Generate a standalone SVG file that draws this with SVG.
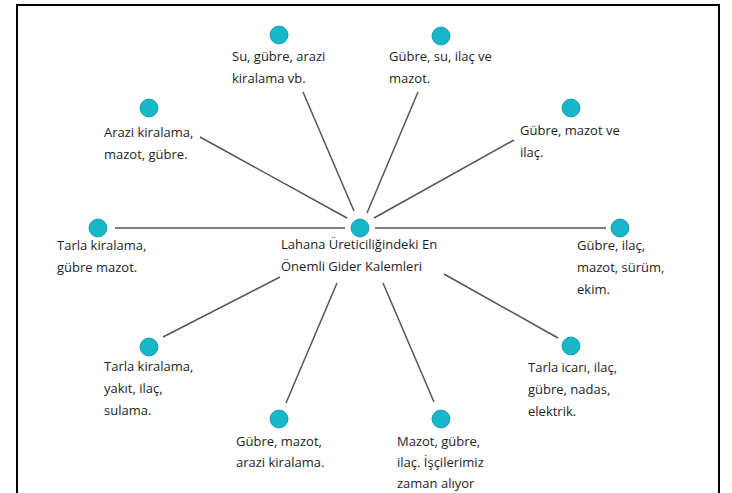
<svg xmlns="http://www.w3.org/2000/svg" width="732" height="493" viewBox="0 0 732 493">
<style>
.n{fill:#16b7c9;stroke:#0f8f9e;stroke-width:0.8}
.t{font-family:"Open Sans","Noto Sans",sans-serif;font-size:13px;fill:#1e1e1e}
.c line{stroke:#555;stroke-width:1.5}
</style>
<rect width="732" height="493" fill="#fff"/>
<path d="M17,493 V5 H719 V493" fill="none" stroke="#000" stroke-width="2"/>
<g class="c" id="connectors">
<line x1="115" y1="228" x2="345" y2="228"/>
<line x1="375" y1="228" x2="606" y2="228"/>
<line x1="303" y1="92" x2="354" y2="211"/>
<line x1="200" y1="137" x2="347" y2="218"/>
<line x1="418" y1="92" x2="367" y2="213"/>
<line x1="514" y1="140" x2="374" y2="218"/>
<line x1="163" y1="337" x2="280" y2="277"/>
<line x1="286" y1="403" x2="337" y2="283"/>
<line x1="383" y1="283" x2="434" y2="402"/>
<line x1="444" y1="274" x2="558" y2="338"/>
</g>
<g id="center"><circle class="n" cx="360" cy="228" r="9"/><text class="t" x="281"><tspan x="281" y="249">Lahana Üreticiliğindeki En</tspan><tspan x="281" y="271">Önemli Gider Kalemleri</tspan></text></g>
<g id="n1"><circle class="n" cx="279" cy="35" r="9"/><text class="t"><tspan x="232" y="61">Su, gübre, arazi</tspan><tspan x="232" y="83">kiralama vb.</tspan></text></g>
<g id="n2"><circle class="n" cx="441" cy="36" r="9"/><text class="t"><tspan x="389" y="61">Gübre, su, ilaç ve</tspan><tspan x="389" y="83">mazot.</tspan></text></g>
<g id="n3"><circle class="n" cx="149" cy="108" r="9"/><text class="t"><tspan x="104" y="137">Arazi kiralama,</tspan><tspan x="104" y="159">mazot, gübre.</tspan></text></g>
<g id="n4"><circle class="n" cx="571" cy="108" r="9"/><text class="t"><tspan x="520" y="135">Gübre, mazot ve</tspan><tspan x="520" y="157">ilaç.</tspan></text></g>
<g id="n5"><circle class="n" cx="98" cy="228" r="9"/><text class="t"><tspan x="57" y="250">Tarla kiralama,</tspan><tspan x="57" y="272">gübre mazot.</tspan></text></g>
<g id="n6"><circle class="n" cx="620" cy="228" r="9"/><text class="t"><tspan x="577" y="250">Gübre, ilaç,</tspan><tspan x="577" y="272">mazot, sürüm,</tspan><tspan x="577" y="294">ekim.</tspan></text></g>
<g id="n7"><circle class="n" cx="149" cy="347" r="9"/><text class="t"><tspan x="104" y="371">Tarla kiralama,</tspan><tspan x="104" y="393">yakıt, ilaç,</tspan><tspan x="104" y="415">sulama.</tspan></text></g>
<g id="n8"><circle class="n" cx="279" cy="419" r="9"/><text class="t"><tspan x="236" y="446">Gübre, mazot,</tspan><tspan x="236" y="467">arazi kiralama.</tspan></text></g>
<g id="n9"><circle class="n" cx="571" cy="346" r="9"/><text class="t"><tspan x="528" y="372">Tarla icarı, ilaç,</tspan><tspan x="528" y="394">gübre, nadas,</tspan><tspan x="528" y="416">elektrik.</tspan></text></g>
<g id="n10"><circle class="n" cx="441" cy="419" r="9"/><text class="t"><tspan x="397" y="446">Mazot, gübre,</tspan><tspan x="397" y="467">ilaç. İşçilerimiz</tspan><tspan x="397" y="488">zaman alıyor</tspan></text></g>
</svg>
